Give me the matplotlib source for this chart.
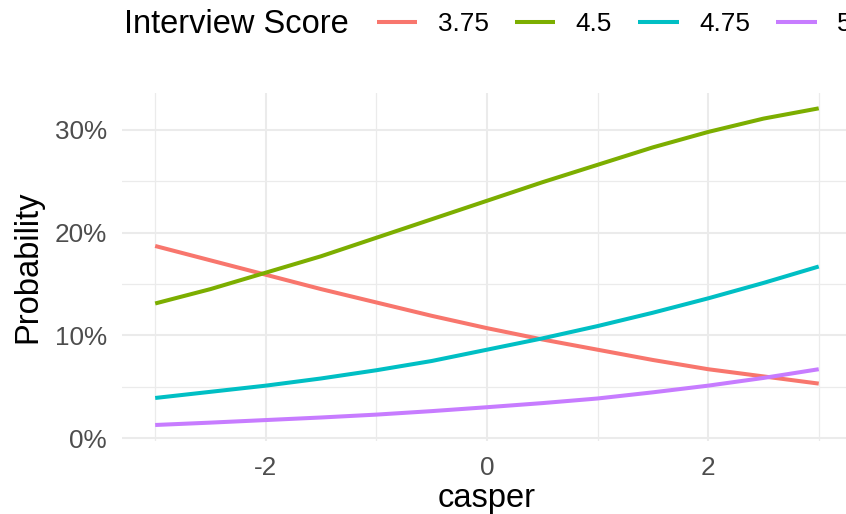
import matplotlib
matplotlib.use("Agg")
import matplotlib.pyplot as plt
from matplotlib.ticker import FixedLocator, FuncFormatter

plt.rcParams['font.family'] = ['Liberation Sans', 'DejaVu Sans']
plt.rcParams['axes.unicode_minus'] = False

# predicted probability by casper score, one curve per interview score
casper = [-3, -2.5, -2, -1.5, -1, -0.5, 0, 0.5, 1, 1.5, 2, 2.5, 3]
scores = ["3.75", "4.5", "4.75", "5"]
p_375 = [0.187, 0.173, 0.159, 0.145, 0.132, 0.119, 0.107, 0.096, 0.086, 0.076, 0.067, 0.060, 0.053]
p_450 = [0.131, 0.145, 0.161, 0.177, 0.195, 0.213, 0.231, 0.249, 0.266, 0.283, 0.298, 0.311, 0.321]
p_475 = [0.039, 0.045, 0.051, 0.058, 0.066, 0.075, 0.086, 0.097, 0.109, 0.122, 0.136, 0.151, 0.167]
p_500 = [0.0127, 0.015, 0.0175, 0.020, 0.0228, 0.0262, 0.030, 0.034, 0.0385, 0.0445, 0.051, 0.0585, 0.067]
colors = ["#F8766D", "#7CAE00", "#00BFC4", "#C77CFF"]

fig = plt.figure(figsize=(8.46, 5.14), dpi=100)
ax = fig.add_axes([0.1442, 0.1424, 0.8628, 0.6776])

handles = []
for vals, col, lab in zip([p_375, p_450, p_475, p_500], colors, scores):
    ln, = ax.plot(casper, vals, color=col, lw=2.9, label=lab, solid_capstyle='butt')
    handles.append(ln)

ax.set_xlim(-3.3, 3.3)
ax.set_ylim(-0.0027, 0.3364)
ax.xaxis.set_major_locator(FixedLocator([-2, 0, 2]))
ax.xaxis.set_minor_locator(FixedLocator([-3, -1, 1, 3]))
ax.yaxis.set_major_locator(FixedLocator([0, 0.1, 0.2, 0.3]))
ax.yaxis.set_minor_locator(FixedLocator([0.05, 0.15, 0.25]))
ax.yaxis.set_major_formatter(FuncFormatter(lambda v, p: f"{v*100:.0f}%"))

ax.grid(which='major', color='#EBEBEB', lw=1.5)
ax.grid(which='minor', color='#EBEBEB', lw=0.9)
ax.set_axisbelow(True)
for s in ax.spines.values():
    s.set_visible(False)
ax.tick_params(which='both', length=0, labelsize=18.8, labelcolor='#4D4D4D', pad=11)

ax.set_xlabel("casper", fontsize=23.5, labelpad=2)
ax.set_ylabel("Probability", fontsize=23.5, labelpad=8)

# legend across the top
fig.text(124 / 846, 1 - 24 / 514, "Interview Score", fontsize=23.5, va='center', ha='left')
fig.legend(handles=handles, labels=scores, loc='center left',
           bbox_to_anchor=(377 / 846, 1 - 24 / 514), ncol=4, frameon=False,
           fontsize=18.8, handlelength=1.55, handletextpad=0.78, columnspacing=1.0,
           borderpad=0, borderaxespad=0)

fig.savefig("out.png", dpi=100)
